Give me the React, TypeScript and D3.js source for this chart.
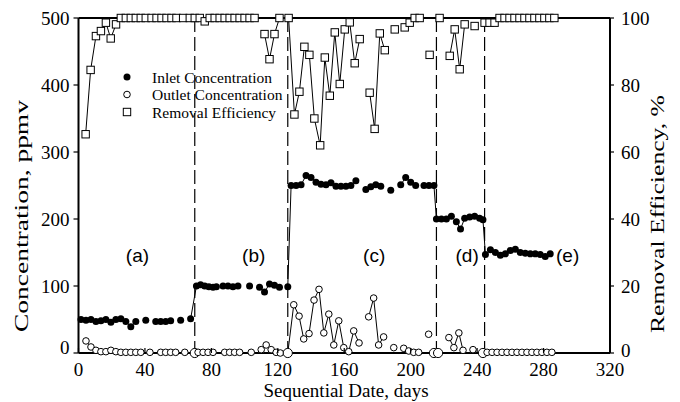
import React from "react";
import * as d3 from "d3";

// ---------- data ----------
const inletDays: number[] = [1.5, 4.5, 7.5, 10.5, 13.5, 16.5, 19.5, 22.5, 25.5, 28.5, 31.5, 34.5, NaN, 40.5, NaN, 46.5, 49.5, 52.5, 55.5, NaN, 61.5, NaN, 67.5, 71, 73.5, 76, 78.5, 81, 83, NaN, 87, 90, 93, 96, NaN, 103, NaN, 109, 112, 115, 118, 121, NaN, 126, 128, 131, 134, 137, 140, 143, 146, 149, 152, 155, 158, 161, 164, 167, NaN, 173, 176, 179, 182, NaN, 188, NaN, 194, 197, 200, 203, NaN, 208, 211, 214, 215.5, 218.5, 221.5, 224.5, 227.5, 230, 232.5, 235.5, 238.5, 241.5, 243.5, 245, 248, 251, 254, 257, 260, 263, 266, 269, 272, 275, 278, 281, 284];
const inletValues: (number | null)[] = [50, 49, 50, 47, 48, 50, 46, 50, 51, 47, 39, 47, null, 49, null, 47, 47, 47, 48, null, 49, null, 51, 100, 102, 100, 99, 98, 99, null, 100, 100, 99, 100, null, 100, null, 98, 91, 103, 101, 98, null, 99, 250, 250, 251, 265, 262, 255, 252, 251, 254, 249, 249, 249, 250, 257, null, 244, 248, 251, 249, null, 243, null, 251, 262, 255, 250, null, 250, 250, 250, 200, 200, 200, 204, 196, 185, 201, 203, 204, 201, 199, 147, 154, 150, 146, 148, 153, 155, 150, 149, 148, 148, 147, 144, 148];

const outletDays: number[] = [4.5, 7.5, 10.5, 13.5, 16.5, 19.5, 22.5, 25.5, 28.5, 31.5, 34.5, 37.5, NaN, 43, NaN, 49.5, 52.5, 55.5, 58.5, NaN, 64, NaN, 70, 72, 75, 78, 81, NaN, 88, 91, 94, 97, NaN, 104, NaN, 110, 113, 116, 119, 121.5, 126, 129.6, 132.8, 135.6, 138.8, 141.8, 144.8, 147.7, 150.7, 153.7, 156.7, 159.7, 162.7, 165.7, 168.9, NaN, 174.7, 177.7, 180.7, 183.7, NaN, 189.8, NaN, 195.8, 198.8, 201.8, 204.8, NaN, 210.8, NaN, 214, 216.5, NaN, 223, 226, 229, 231.5, NaN, 237.5, NaN, 243.5, 246, 249, 252, 255, 258, 261, 264, 267, 270, 273, 276, 279, 282, 285];
const outletValues: (number | null)[] = [18, 9, 4, 2, 2, 4, 2, 1, 1, 1, 1, 1, null, 1, null, 1, 1, 1, 1, null, 1, null, 0, 1, 1, 1, 1, null, 1, 1, 1, 1, null, 1, null, 5, 12, 5, 1, 0, 0, 72, 55, 21, 29, 79, 95, 30, 58, 12, 48, 8, 2, 33, 15, null, 54, 82, 12, 24, null, 8, null, 7, 3, 1, 1, null, 28, null, 0, 0, null, 23, 8, 30, 4, null, 5, null, 0, 1, 1, 1, 1, 1, 1, 1, 1, 1, 1, 1, 1, 1, 1];

const effDays: number[] = [4.3, 7.3, 10.5, 13.5, 16.5, 19.4, 22.6, 25.5, 28.5, 31.5, 34.5, 37.5, 40.5, 44, 47, 50, 53, 56, 59, 63, 67, 70, 73, 76, 79, 82, 85, 88, 91, 94, 97, 100, 103, 106, NaN, 112, 115, 118, 121, 126.5, 130, 133, 136, 139, 142, 145.5, 148.3, 151.3, 154.3, 157.3, 160.3, 163.3, 166.3, 169.3, NaN, 175.3, 178.3, 181.4, 184.4, NaN, 190.4, NaN, 196.4, 199.4, 202.4, 205.4, NaN, 211.4, NaN, 217.4, NaN, 223.5, 226.5, 229.5, 232.5, NaN, 238.5, NaN, 244.5, 247.5, 250.5, 253.5, 256.5, 259.5, 262.5, 265.5, 268.5, 271.5, 274.5, 277.5, 280.5, 283.5, 286.5];
const effValues: (number | null)[] = [65.3, 84.5, 94.6, 96.1, 98.6, 93.9, 98.1, 100, 100, 100, 100, 100, 100, 100, 100, 100, 100, 100, 100, 100, 100, 100, 100, 99, 100, 100, 100, 100, 100, 100, 100, 100, 100, 100, null, 95.2, 87.7, 95.2, 100, 100, 71.2, 78, 91.4, 89, 70, 62, 88.2, 76.8, 95.7, 80.3, 96.6, 98.7, 86.5, 93.7, null, 77.7, 66.9, 95.4, 90.4, null, 96.6, null, 97.2, 98.6, 100, 100, null, 89, null, 100, null, 88.7, 96.6, 84.7, 98.1, null, 97.6, null, 98.6, 98.6, 98.6, 100, 100, 100, 100, 100, 100, 100, 100, 100, 100, 100, 100];

const phaseBoundaries = [70, 126, 215.5, 244.5];
const phaseLabels = ["(a)", "(b)", "(c)", "(d)", "(e)"];
const phaseLabelDays = [35.5, 105.5, 178, 234, 294.5];
const phaseLabelLevel = [145, 145, 145, 145, 145];

const xTicks = [0, 40, 80, 120, 160, 200, 240, 280, 320];
const yTicks = [0, 100, 200, 300, 400, 500];
const y2Ticks = [0, 20, 40, 60, 80, 100];
const legendLabels = ["Inlet Concentration", "Outlet Concentration", "Removal Efficiency"];

// ---------- layout ----------
const W = 680, H = 402;
const L = 78.5, R = 610, T = 18, B = 353;
const serif = "'Liberation Serif', 'Times New Roman', Times, serif";
const sans = "'Liberation Sans', Arial, sans-serif";

type P = { d: number; v: number | null };
const zip = (ds: number[], vs: (number | null)[]): P[] => ds.map((d, i) => ({ d, v: vs[i] }));

export default function App() {
  const x = d3.scaleLinear().domain([0, 320]).range([L, R]);
  const y = d3.scaleLinear().domain([0, 500]).range([B, T]);
  const y2 = d3.scaleLinear().domain([0, 100]).range([B, T]);

  const inlet = zip(inletDays, inletValues);
  const outlet = zip(outletDays, outletValues);
  const eff = zip(effDays, effValues);

  const lineC = d3.line<P>().defined(p => p.v != null && !isNaN(p.d)).x(p => x(p.d)).y(p => y(p.v as number));
  const lineE = d3.line<P>().defined(p => p.v != null && !isNaN(p.d)).x(p => x(p.d)).y(p => y2(p.v as number));
  const valid = (p: P) => p.v != null && !isNaN(p.d);

  const isBoundary = (p: P) => (p.v as number) < 1 && phaseBoundaries.some(b => Math.abs(b - p.d) < 2.2);

  return (
    <svg width={W} height={H} style={{ position: "absolute", left: 0, top: 0, background: "#fff" }}>
      <rect width={W} height={H} fill="#fff" />
      {phaseBoundaries.map((b, i) => (
        <line key={i} x1={x(b)} x2={x(b)} y1={T} y2={B} stroke="#000" strokeWidth={1.2} strokeDasharray="14,5" />
      ))}
      {phaseLabels.map((t, i) => (
        <text key={t} x={x(phaseLabelDays[i])} y={y(phaseLabelLevel[i])} fontFamily={sans} fontSize={19} textAnchor="middle" dominantBaseline="central">{t}</text>
      ))}
      <path d={lineE(eff) || ""} fill="none" stroke="#000" strokeWidth={1} />
      <path d={lineC(outlet) || ""} fill="none" stroke="#000" strokeWidth={1} />
      <path d={lineC(inlet) || ""} fill="none" stroke="#000" strokeWidth={1} />
      <line x1={L} x2={R} y1={T} y2={T} stroke="#000" strokeWidth={2} />
      <line x1={L} x2={R} y1={B} y2={B} stroke="#000" strokeWidth={2} />
      <line x1={L} x2={L} y1={T} y2={B} stroke="#000" strokeWidth={2} />
      <line x1={R} x2={R} y1={T} y2={B} stroke="#000" strokeWidth={2} />
      {eff.filter(valid).map((p, i) => (
        <rect key={"e" + i} x={x(p.d) - 3.7} y={y2(p.v as number) - 3.7} width={7.4} height={7.4} fill="#fff" stroke="#000" strokeWidth={1} />
      ))}
      {outlet.filter(valid).map((p, i) => (
        <circle key={"o" + i} cx={x(p.d)} cy={y(p.v as number)} r={isBoundary(p) ? 4.6 : 3.3} fill="#fff" stroke="#000" strokeWidth={1} />
      ))}
      {inlet.filter(valid).map((p, i) => (
        <circle key={"i" + i} cx={x(p.d)} cy={y(p.v as number)} r={3.5} fill="#000" />
      ))}
      {yTicks.map(t => (
        <g key={"y" + t}>
          <line x1={L - 5} x2={L} y1={y(t)} y2={y(t)} stroke="#000" strokeWidth={1.2} />
          <text x={L - 9} y={t === 0 ? y(t) - 6 : y(t)} fontFamily={serif} fontSize={19} textAnchor="end" dominantBaseline="central">{t}</text>
        </g>
      ))}
      {y2Ticks.map(t => (
        <g key={"r" + t}>
          <line x1={R} x2={R + 4} y1={y2(t)} y2={y2(t)} stroke="#000" strokeWidth={1.2} />
          <text x={R + 11} y={t === 0 ? y2(t) - 3 : y2(t)} fontFamily={serif} fontSize={19} textAnchor="start" dominantBaseline="central">{t}</text>
        </g>
      ))}
      {xTicks.map(t => (
        <g key={"x" + t}>
          <line x1={x(t)} x2={x(t)} y1={B} y2={B - 5} stroke="#000" strokeWidth={1.2} />
          <text x={x(t)} y={369} fontFamily={serif} fontSize={19} textAnchor="middle" dominantBaseline="central">{t}</text>
        </g>
      ))}
      <text x={346} y={397} fontFamily={serif} fontSize={19} textAnchor="middle">Sequential Date, days</text>
      <text transform="translate(28,216) rotate(-90)" fontFamily={serif} fontSize={18} textAnchor="middle" textLength={232} lengthAdjust="spacingAndGlyphs">Concentration, ppmv</text>
      <text transform="translate(664,214) rotate(-90)" fontFamily={serif} fontSize={18} textAnchor="middle" textLength={238} lengthAdjust="spacingAndGlyphs">Removal Efficiency, %</text>
      <circle cx={127} cy={77} r={3.5} fill="#000" />
      <circle cx={127} cy={94.5} r={3.3} fill="#fff" stroke="#000" strokeWidth={1} />
      <rect x={123.3} y={108.3} width={7.4} height={7.4} fill="#fff" stroke="#000" strokeWidth={1} />
      {legendLabels.map((t, i) => (
        <text key={t} x={152} y={77 + i * 17.5} fontFamily={serif} fontSize={15.5} dominantBaseline="central">{t}</text>
      ))}
    </svg>
  );
}
